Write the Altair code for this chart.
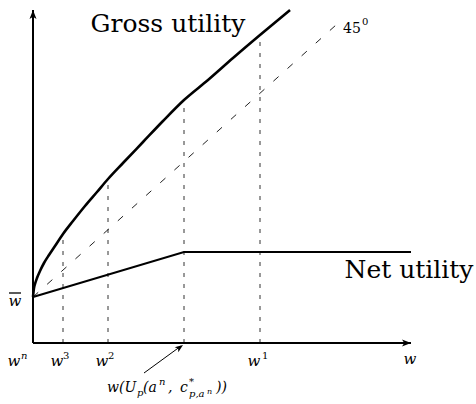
import altair as alt
import pandas as pd

# Gross utility as a function of w
gross_w = [0, 1, 2, 4, 7, 11, 16, 22, 30, 40, 52, 64, 75, 90, 110, 130, 151, 175, 200, 227, 257]
gross_u = [46, 55, 59, 65, 72, 80, 88, 97, 109, 122, 137, 151, 164, 180, 201, 222, 243, 263, 285, 308, 333]

# Net utility: rises to the kink, then flat
net_w = [0, 151, 378]
net_u = [46, 91, 91]

# Reservation level and the 45 degree reference line
wbar = 46
diag_w = [0, 303]
diag_u = [46, 318]

# Wage thresholds marked on the horizontal axis
guide_w = [30, 75, 151, 227]
guide_names = ["w3", "w2", "kink", "w1"]

axis_w_max = 378
axis_u_max = 333

X = alt.Scale(domain=[-33, 443], nice=False, zero=False)
Y = alt.Scale(domain=[-61, 343], nice=False, zero=False)
SERIF = "DejaVu Serif"


def xs(field, **kw):
    return alt.X(field, type="quantitative", scale=X, axis=None, **kw)


def ys(field, **kw):
    return alt.Y(field, type="quantitative", scale=Y, axis=None, **kw)


# axes
axes_df = pd.DataFrame({
    "x": [0, 0], "y": [0, 0],
    "x2": [axis_w_max, 0], "y2": [0, axis_u_max],
})
axes = alt.Chart(axes_df).mark_rule(color="black", strokeWidth=2).encode(
    x=xs("x"), y=ys("y"), x2="x2", y2="y2"
)

# arrowheads (tip at the anchor point, drawn pointing up then rotated)
ARROW = "M0,0 L0.7,1.8 L0,1.35 L-0.7,1.8 Z"
heads_df = pd.DataFrame({
    "x": [0, axis_w_max, 150], "y": [axis_u_max, 0, -2],
    "angle": [0, 90, 54], "size": [100, 100, 80],
})
heads = alt.Chart(heads_df).mark_point(
    shape=ARROW, filled=True, color="black", opacity=1, strokeWidth=0
).encode(
    x=xs("x"), y=ys("y"),
    angle=alt.Angle("angle:Q", scale=None),
    size=alt.Size("size:Q", scale=None),
)

# dashed guides from the axis up to the gross utility curve
guide_top = [gross_u[gross_w.index(g)] for g in guide_w]
guides_df = pd.DataFrame({"x": guide_w, "y": [0] * 4, "y2": guide_top, "name": guide_names})
guides = alt.Chart(guides_df).mark_rule(
    color="#333333", strokeWidth=1, strokeDash=[4, 7]
).encode(x=xs("x"), y=ys("y"), y2="y2")

# 45 degree line
diag_df = pd.DataFrame({"x": [diag_w[0]], "y": [diag_u[0]], "x2": [diag_w[1]], "y2": [diag_u[1]]})
diag = alt.Chart(diag_df).mark_rule(
    color="#222222", strokeWidth=1, strokeDash=[7, 12]
).encode(x=xs("x"), y=ys("y"), x2="x2", y2="y2")

# net utility
net_df = pd.DataFrame({"w": net_w, "u": net_u})
net = alt.Chart(net_df).mark_line(color="black", strokeWidth=2).encode(
    x=xs("w"), y=ys("u"), order="w:Q"
)

# gross utility
gross_df = pd.DataFrame({"w": gross_w, "u": gross_u})
gross = alt.Chart(gross_df).mark_line(
    color="black", strokeWidth=2.6, interpolate="monotone"
).encode(x=xs("w"), y=ys("u"), order="w:Q")

# pointer to the kink wage
pointer_df = pd.DataFrame({"x": [111], "y": [-30], "x2": [148], "y2": [-3]})
pointer = alt.Chart(pointer_df).mark_rule(color="black", strokeWidth=1).encode(
    x=xs("x"), y=ys("y"), x2="x2", y2="y2"
)

# bar over w on the vertical axis
bar_df = pd.DataFrame({"x": [-24], "x2": [-12], "y": [wbar + 4]})
overbar = alt.Chart(bar_df).mark_rule(color="black", strokeWidth=1.3).encode(
    x=xs("x"), x2="x2", y=ys("y")
)


def text_layer(rows, align, style):
    df = pd.DataFrame(rows, columns=["x", "y", "t", "s"])
    return alt.Chart(df).mark_text(
        font=SERIF, fontStyle=style, align=align, baseline="alphabetic", color="black"
    ).encode(
        x=xs("x"), y=ys("y"), text="t:N", size=alt.Size("s:Q", scale=None)
    )


titles = text_layer([
    [135, 311, "Gross utility", 25],
    [376, 65, "Net utility", 25],
], "center", "normal")

upright_small = text_layer([
    [310, 310, "45", 14],
    [329, 318, "0", 10],
    [30, -16, "3", 10],
    [75, -16, "2", 10],
    [229, -16, "1", 10],
], "left", "normal")

math_center = text_layer([
    [-18, 37, "w", 15],
    [-19, -23, "w", 15],
    [24, -23, "w", 15],
    [69, -23, "w", 15],
    [221, -23, "w", 15],
    [377, -21, "w", 15],
], "center", "italic")

math_sup = text_layer([
    [-12, -16, "n", 10],
], "left", "italic")

# w(U_p(a^n, c*_{p,a^n})) set piece by piece
label = text_layer([
    [74, -49, "w(U", 14],
    [104, -53, "p", 10],
    [110, -49, "(a", 14],
    [126, -42, "n", 10],
    [135, -49, ",", 14],
    [147, -49, "c", 14],
    [156, -42, "*", 10],
    [156, -54, "p,a", 10],
    [174, -51, "n", 8],
    [183, -49, "))", 14],
], "left", "italic")

chart = alt.layer(
    guides, diag, axes, heads, net, gross, pointer, overbar,
    titles, upright_small, math_center, math_sup, label,
).properties(
    width=476, height=404, padding=0, autosize=alt.AutoSizeParams(type="none")
).configure_view(stroke=None)

chart.save("out.html", embed_options={"renderer": "svg", "actions": False})
